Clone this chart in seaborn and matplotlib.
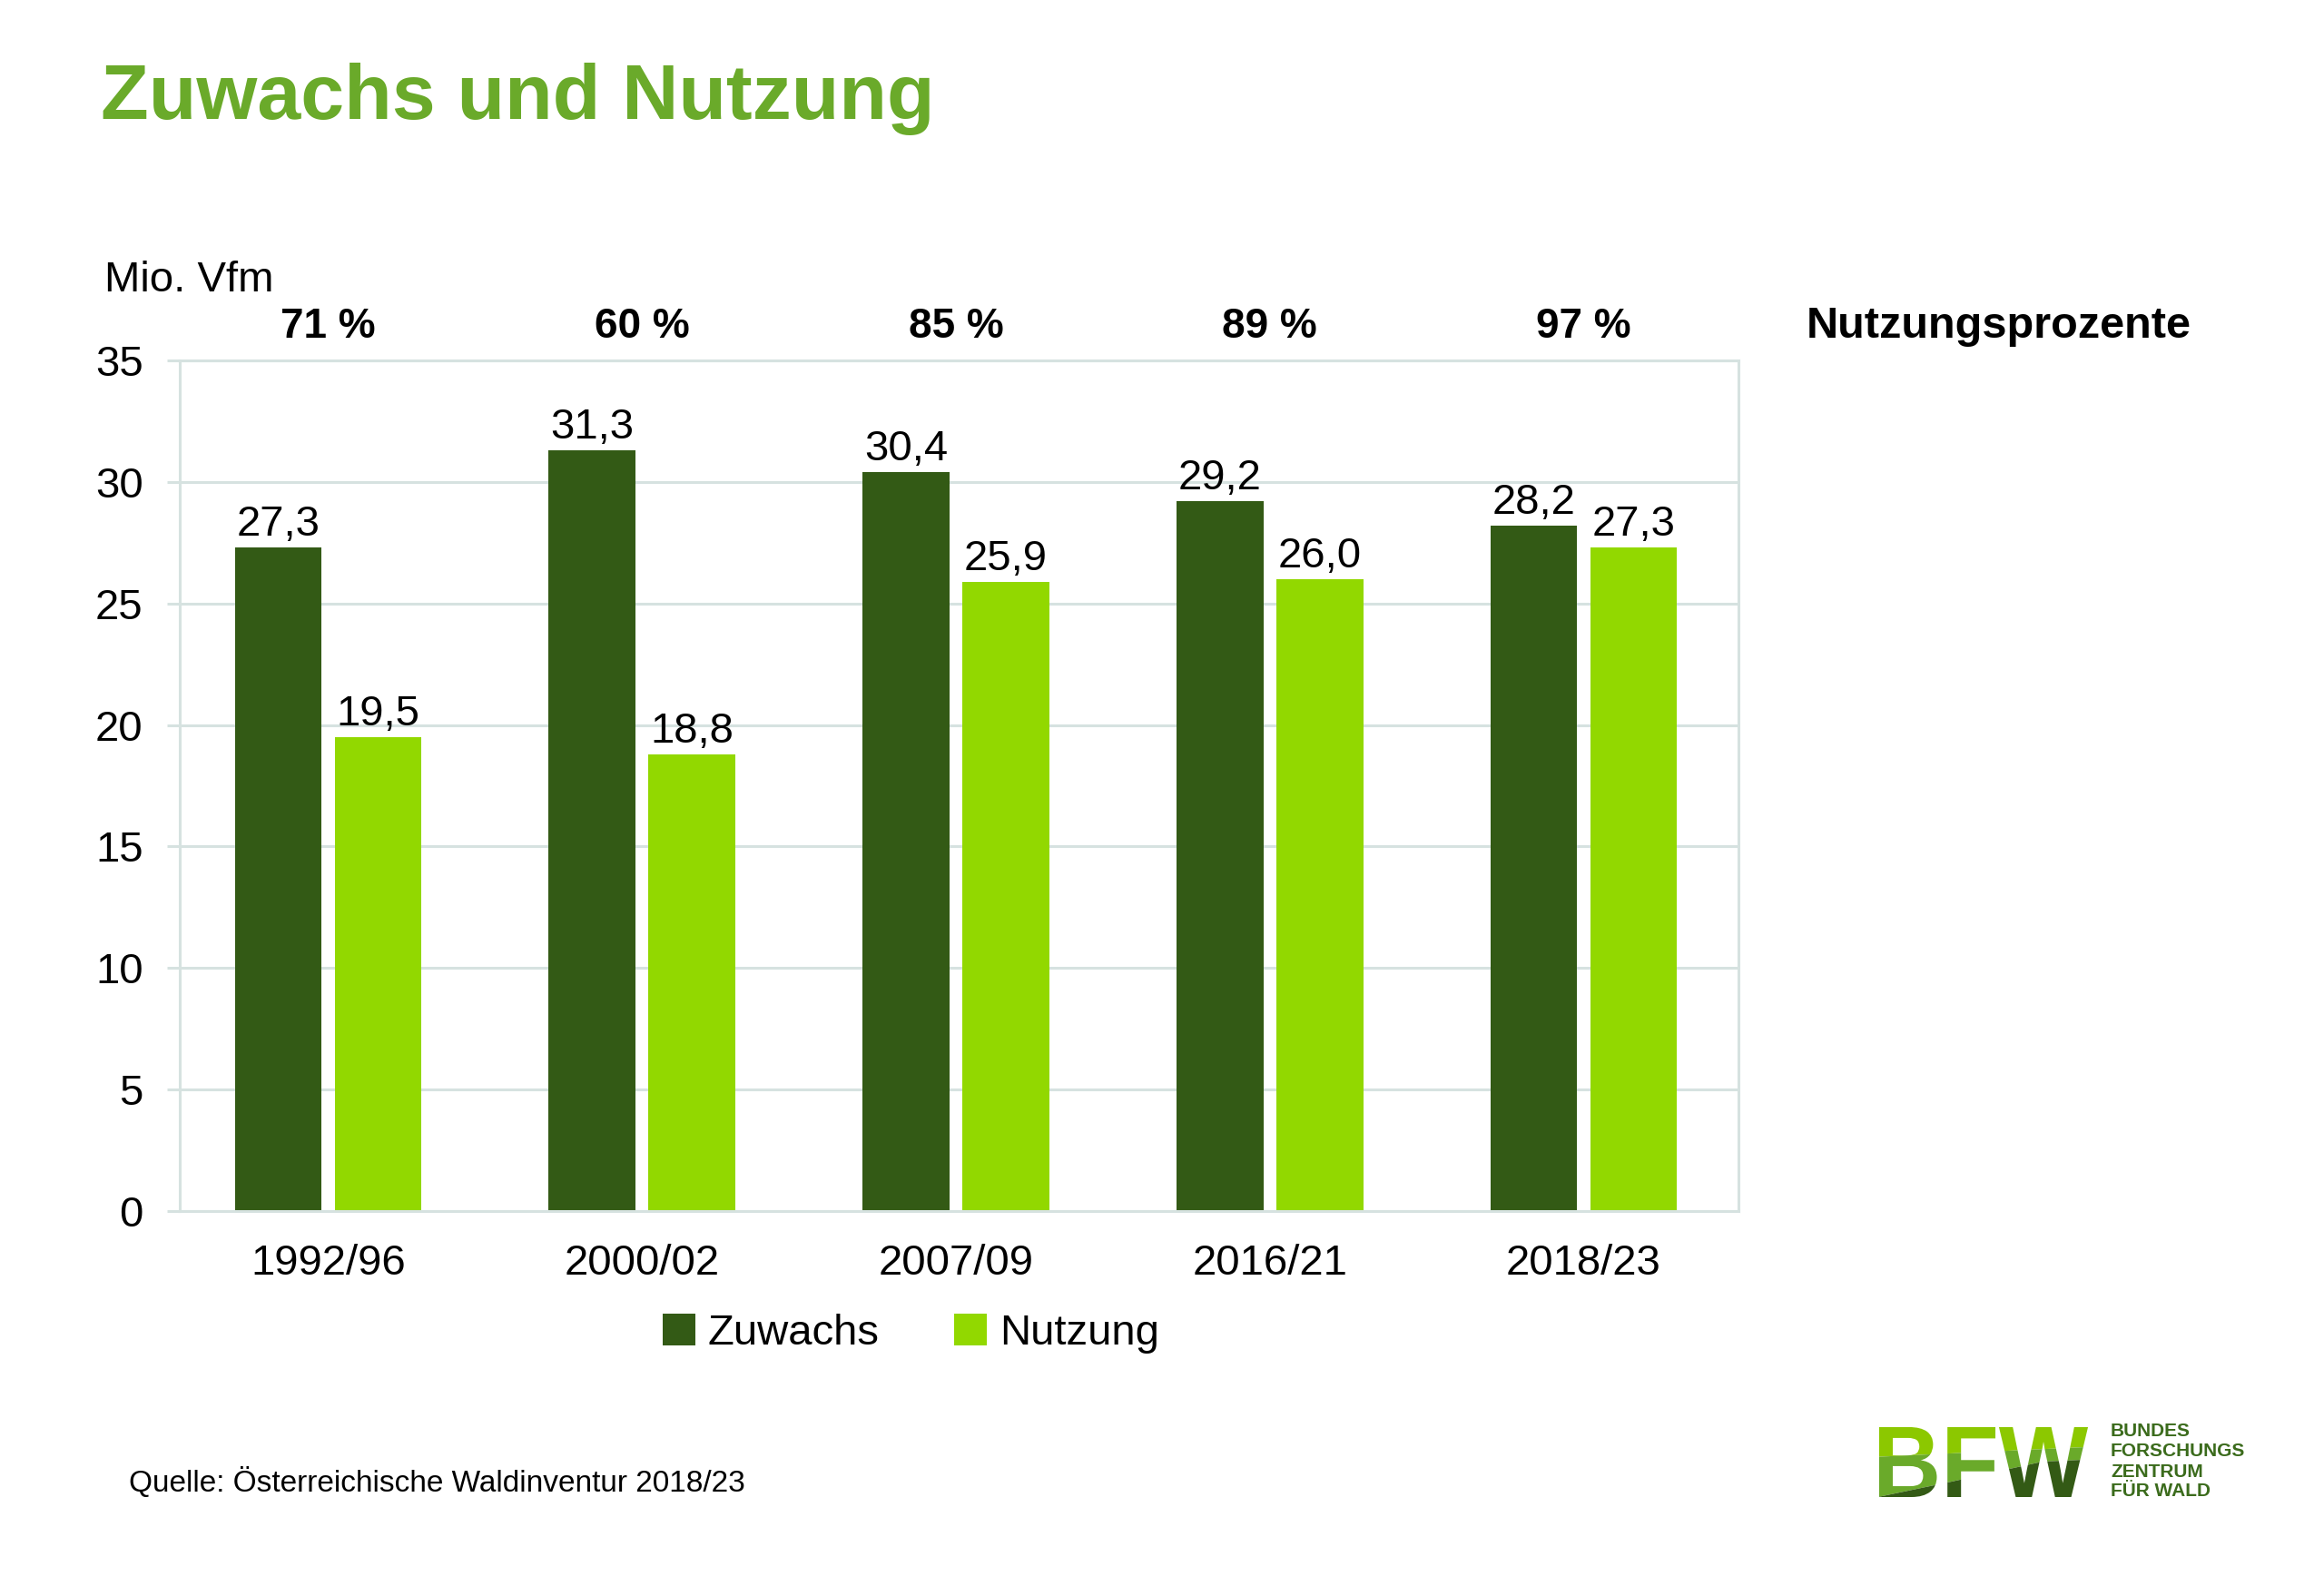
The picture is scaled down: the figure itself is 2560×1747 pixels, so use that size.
import pandas as pd
import seaborn as sns
import matplotlib.pyplot as plt
from matplotlib.patches import Patch, Polygon, PathPatch
from matplotlib.textpath import TextPath
from matplotlib.font_manager import FontProperties
from matplotlib.transforms import Affine2D

# Chart data
periods = ["1992/96", "2000/02", "2007/09", "2016/21", "2018/23"]
zuwachs = [27.3, 31.3, 30.4, 29.2, 28.2]
nutzung = [19.5, 18.8, 25.9, 26.0, 27.3]
nutzungsprozente = [71, 60, 85, 89, 97]
series = ["Zuwachs", "Nutzung"]
colors = {"Zuwachs": "#335A15", "Nutzung": "#92D800"}

df = pd.DataFrame({
    "Periode": periods * 2,
    "Wert": zuwachs + nutzung,
    "Art": ["Zuwachs"] * len(periods) + ["Nutzung"] * len(periods),
})

sns.set_theme(style="white")
plt.rcParams["font.family"] = ["Liberation Sans", "DejaVu Sans"]
plt.rcParams["text.color"] = "black"

grid_col = "#D6E2E0"
W, H = 2560, 1747

fig = plt.figure(figsize=(25.6, 17.47), dpi=100)
ax = fig.add_axes([198 / W, 1 - 1334 / H, (1915 - 198) / W, (1334 - 397) / H])

sns.barplot(data=df, x="Periode", y="Wert", hue="Art", hue_order=series,
            palette=colors, width=0.636, gap=0.13, saturation=1,
            errorbar=None, linewidth=0, legend=False, ax=ax)

# value labels with decimal comma
for cont, vals in zip(ax.containers, [zuwachs, nutzung]):
    ax.bar_label(cont, labels=[f"{v:.1f}".replace(".", ",") for v in vals],
                 padding=2, fontsize=34, color="black")

# usage percent above each group
for i, p in enumerate(nutzungsprozente):
    ax.annotate(f"{p} %", xy=(i, 35), xytext=(0, 18), textcoords="offset points",
                ha="center", va="baseline", fontsize=33, fontweight="bold",
                annotation_clip=False)

ax.set_ylim(0, 35)
ax.set_xlim(-0.473, 4.493)
ax.set_yticks(range(0, 36, 5))
ax.set_xlabel("")
ax.set_ylabel("")
ax.yaxis.grid(True, color=grid_col, lw=2.2)
ax.set_axisbelow(True)
for s in ax.spines.values():
    s.set_visible(True)
    s.set_color(grid_col)
    s.set_linewidth(2.2)
ax.tick_params(axis="y", left=True, length=10, width=2.2, color=grid_col,
               labelsize=34, pad=19, labelcolor="black")
ax.tick_params(axis="x", bottom=False, length=0, labelsize=34, pad=26,
               labelcolor="black")

handles = [Patch(facecolor=colors[s], edgecolor="none") for s in series]
ax.legend(handles, series, loc="center", bbox_to_anchor=(0.392, 0.159),
          bbox_transform=fig.transFigure, ncol=2, frameon=False, fontsize=34,
          handlelength=0.75, handleheight=0.75, handletextpad=0.3,
          columnspacing=1.75, labelcolor="black")

# texts around the chart
fig.text(111 / W, 1 - 131 / H, "Zuwachs und Nutzung", fontsize=62,
         fontweight="bold", color="#6AAA2A", va="baseline")
fig.text(115 / W, 1 - 321 / H, "Mio. Vfm", fontsize=34, va="baseline")
fig.text(1990 / W, 1 - 372 / H, "Nutzungsprozente", fontsize=35,
         fontweight="bold", va="baseline")
fig.text(142 / W, 1 - 1643 / H, "Quelle: Österreichische Waldinventur 2018/23",
         fontsize=24, va="baseline")

# logo: BFW in three green bands (text as path so clipping works)
px = Affine2D().scale(1 / W, 1 / H) + fig.transFigure


def ppoly(pts):
    return Polygon([(x, H - y) for x, y in pts], closed=True, transform=px)


bfw_path = TextPath((0, 0), "BFW", size=112,
                    prop=FontProperties(family="Liberation Sans", weight="bold"))
bands = [
    ("#8CC800", [(2040, 1540), (2340, 1540), (2340, 1592), (2040, 1606)]),
    ("#6AAA2A", [(2040, 1606), (2340, 1592), (2340, 1606), (2250, 1610),
                 (2150, 1632), (2040, 1655)]),
    ("#335A15", [(2040, 1655), (2150, 1632), (2250, 1610), (2340, 1606),
                 (2340, 1670), (2040, 1670)]),
]
for col, pts in bands:
    patch = PathPatch(bfw_path, facecolor=col, edgecolor="none",
                      transform=Affine2D().scale(0.93, 1.0).translate(2063, H - 1649) + px)
    fig.add_artist(patch)
    patch.set_clip_path(ppoly(pts))

logo_lines = ["BUNDES", "FORSCHUNGS", "ZENTRUM", "FÜR WALD"]
logo_base = [1582, 1604, 1627, 1648]
for txt, yb in zip(logo_lines, logo_base):
    fig.text(2325 / W, 1 - yb / H, txt, fontsize=15, fontweight="bold",
             color="#3B6B1C", va="baseline")

fig.savefig("out.png", dpi=100)
